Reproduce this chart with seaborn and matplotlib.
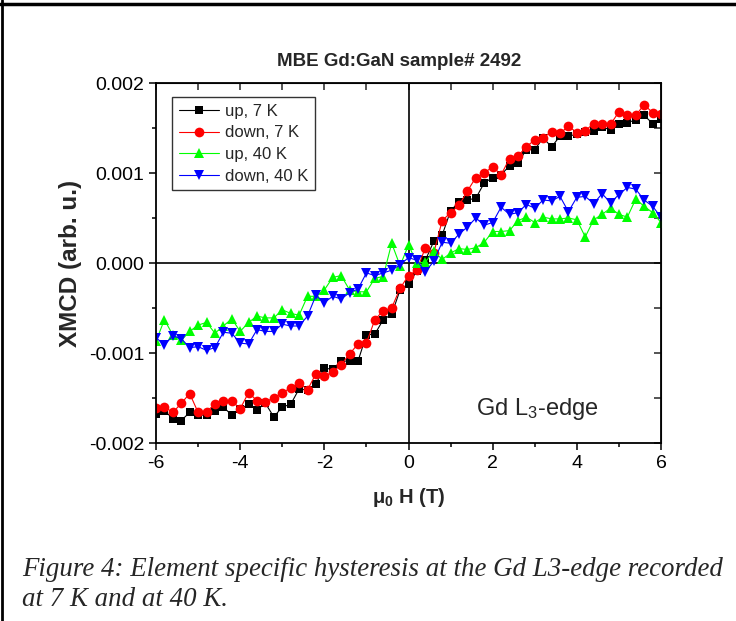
import numpy as np
import pandas as pd
import matplotlib
matplotlib.use("Agg")
import matplotlib.pyplot as plt
import seaborn as sns
from matplotlib.lines import Line2D
from matplotlib.ticker import MultipleLocator, FormatStrFormatter

# field values (T), 0.2 T steps
H = [-6.0, -5.8, -5.6, -5.4, -5.2, -5.0, -4.8, -4.6, -4.4, -4.2, -4.0, -3.8, -3.6, -3.4, -3.2,
     -3.0, -2.8, -2.6, -2.4, -2.2, -2.0, -1.8, -1.6, -1.4, -1.2, -1.0, -0.8, -0.6, -0.4, -0.2,
     0.0, 0.2, 0.4, 0.6, 0.8, 1.0, 1.2, 1.4, 1.6, 1.8, 2.0, 2.2, 2.4, 2.6, 2.8,
     3.0, 3.2, 3.4, 3.6, 3.8, 4.0, 4.2, 4.4, 4.6, 4.8, 5.0, 5.2, 5.4, 5.6, 5.8, 6.0]

up_7K = [-0.00168, -0.00164, -0.00173, -0.00175, -0.00166, -0.00169, -0.00169, -0.00164, -0.00160, -0.00169,
         -0.00162, -0.00157, -0.00163, -0.00156, -0.00171, -0.00160, -0.00157, -0.00140, -0.00141, -0.00134,
         -0.00117, -0.00118, -0.00109, -0.00109, -0.00109, -0.00080, -0.00079, -0.00063, -0.00057, -0.00030,
         -0.00023, -0.00009, 0.00003, 0.00024, 0.00031, 0.00058, 0.00068, 0.00070, 0.00072, 0.00089,
         0.00095, 0.00098, 0.00108, 0.00111, 0.00126, 0.00126, 0.00139, 0.00129, 0.00141, 0.00141,
         0.00143, 0.00146, 0.00147, 0.00151, 0.00148, 0.00154, 0.00156, 0.00159, 0.00164, 0.00155, 0.00160]

down_7K = [-0.00161, -0.00160, -0.00166, -0.00156, -0.00145, -0.00166, -0.00165, -0.00157, -0.00153, -0.00153,
           -0.00162, -0.00144, -0.00153, -0.00154, -0.00150, -0.00144, -0.00139, -0.00133, -0.00141, -0.00123,
           -0.00126, -0.00121, -0.00113, -0.00101, -0.00090, -0.00089, -0.00063, -0.00053, -0.00050, -0.00028,
           -0.00014, -0.00008, 0.00017, 0.00011, 0.00047, 0.00056, 0.00064, 0.00080, 0.00095, 0.00100,
           0.00107, 0.00098, 0.00116, 0.00119, 0.00129, 0.00137, 0.00139, 0.00146, 0.00144, 0.00152,
           0.00145, 0.00147, 0.00155, 0.00154, 0.00154, 0.00168, 0.00164, 0.00164, 0.00176, 0.00167, 0.00166]

up_40K = [-0.00087, -0.00063, -0.00080, -0.00086, -0.00076, -0.00069, -0.00066, -0.00078, -0.00070, -0.00062,
          -0.00076, -0.00066, -0.00059, -0.00061, -0.00061, -0.00052, -0.00056, -0.00058, -0.00037, -0.00037,
          -0.00030, -0.00016, -0.00014, -0.00030, -0.00032, -0.00032, -0.00017, -0.00015, 0.00022, -0.00003,
          0.00020, 0.00000, 0.00001, 0.00013, 0.00004, 0.00011, 0.00016, 0.00015, 0.00017, 0.00023,
          0.00035, 0.00035, 0.00036, 0.00047, 0.00051, 0.00045, 0.00051, 0.00049, 0.00049, 0.00050,
          0.00048, 0.00029, 0.00048, 0.00054, 0.00061, 0.00054, 0.00051, 0.00071, 0.00063, 0.00056, 0.00045]

down_40K = [-0.00083, -0.00091, -0.00081, -0.00084, -0.00094, -0.00093, -0.00097, -0.00094, -0.00077, -0.00078,
            -0.00089, -0.00090, -0.00074, -0.00076, -0.00076, -0.00068, -0.00070, -0.00070, -0.00059, -0.00036,
            -0.00044, -0.00037, -0.00040, -0.00033, -0.00029, -0.00011, -0.00014, -0.00011, -0.00008, -0.00002,
            0.00006, 0.00003, -0.00010, 0.00002, 0.00023, 0.00022, 0.00032, 0.00040, 0.00050, 0.00042,
            0.00045, 0.00062, 0.00054, 0.00056, 0.00065, 0.00061, 0.00070, 0.00069, 0.00074, 0.00057,
            0.00073, 0.00074, 0.00066, 0.00077, 0.00067, 0.00076, 0.00084, 0.00082, 0.00070, 0.00063, 0.00051]

labels = ["up, 7 K", "down, 7 K", "up, 40 K", "down, 40 K"]
colors = ["#000000", "#ff0000", "#00ff00", "#0000ff"]
markers = ["s", "o", "^", "v"]
sizes = [6, 7, 7.5, 7.5]

sns.set_style("ticks")
plt.rcParams["font.family"] = ["Liberation Sans", "DejaVu Sans"]
plt.rcParams["axes.unicode_minus"] = False
plt.rcParams["mathtext.fontset"] = "custom"
plt.rcParams["mathtext.rm"] = "Liberation Sans"
plt.rcParams["mathtext.bf"] = "Liberation Sans:bold"
plt.rcParams["mathtext.it"] = "Liberation Sans:italic"

fig = plt.figure(figsize=(7.36, 6.21), dpi=100)
ax = fig.add_axes([156 / 736, 1 - 443 / 621, 505 / 736, 360 / 621])

for ys, lab, c, m, s in zip([up_7K, down_7K, up_40K, down_40K], labels, colors, markers, sizes):
    sns.lineplot(x=H, y=ys, ax=ax, color=c, marker=m, markersize=s, markeredgewidth=0,
                 linewidth=0.8, label=lab)

ax.axhline(0, color="black", lw=1.2, zorder=1)
ax.axvline(0, color="black", lw=1.2, zorder=1)

ax.set_xlim(-6, 6)
ax.set_ylim(-0.002, 0.002)
ax.xaxis.set_major_locator(MultipleLocator(2))
ax.xaxis.set_minor_locator(MultipleLocator(1))
ax.yaxis.set_major_locator(MultipleLocator(0.001))
ax.yaxis.set_minor_locator(MultipleLocator(0.0005))
ax.yaxis.set_major_formatter(FormatStrFormatter("%.3f"))
ax.xaxis.set_major_formatter(FormatStrFormatter("%d"))

for sp in ax.spines.values():
    sp.set_linewidth(1.3)
    sp.set_color("black")
ax.tick_params(which="both", direction="out", width=1.1, labelsize=14, colors="black",
               top=False, right=False)
ax.tick_params(which="major", length=5)
ax.tick_params(which="minor", length=3)

# mirrored ticks pointing inwards on top/right
secx = ax.secondary_xaxis("top")
secx.xaxis.set_major_locator(MultipleLocator(1))
secx.tick_params(direction="in", length=5, width=1.1, labeltop=False)
secy = ax.secondary_yaxis("right")
secy.yaxis.set_major_locator(MultipleLocator(0.0005))
secy.tick_params(direction="in", length=5, width=1.1, labelright=False)

ax.set_xlabel("μ$_\\mathbf{0}$ H (T)", fontsize=14.5, fontweight="bold", labelpad=10)
ax.set_ylabel("XMCD (arb. u.)", fontsize=17.5, fontweight="bold", labelpad=5)
ax.set_title("MBE Gd:GaN sample# 2492", fontsize=13.5, fontweight="bold", pad=12, x=0.482)

ax.text(3.05, -0.00162, "Gd L$_3$-edge", fontsize=17, ha="center", va="center")

leg = ax.legend(loc="upper left", bbox_to_anchor=(16 / 505, 1 - 14 / 360), borderaxespad=0,
                fontsize=12, frameon=True, fancybox=False, edgecolor="black",
                handlelength=2.4, labelspacing=0.4, handletextpad=0.4, borderpad=0.4)
leg.get_frame().set_linewidth(1.0)

# caption under the figure
fig.text(22 / 736, 1 - 576 / 621, "Figure 4: Element specific hysteresis at the Gd L3-edge recorded",
         fontsize=19.4, style="italic", family="Liberation Serif", va="baseline", ha="left")
fig.text(22 / 736, 1 - 606 / 621, "at 7 K and at 40 K.",
         fontsize=19.4, style="italic", family="Liberation Serif", va="baseline", ha="left")

# page border lines
fig.add_artist(Line2D([0, 1], [1 - 4 / 621, 1 - 4 / 621], color="black", lw=2.5))
fig.add_artist(Line2D([2 / 736, 2 / 736], [0, 1], color="black", lw=2))

fig.savefig("out.png", dpi=100)
